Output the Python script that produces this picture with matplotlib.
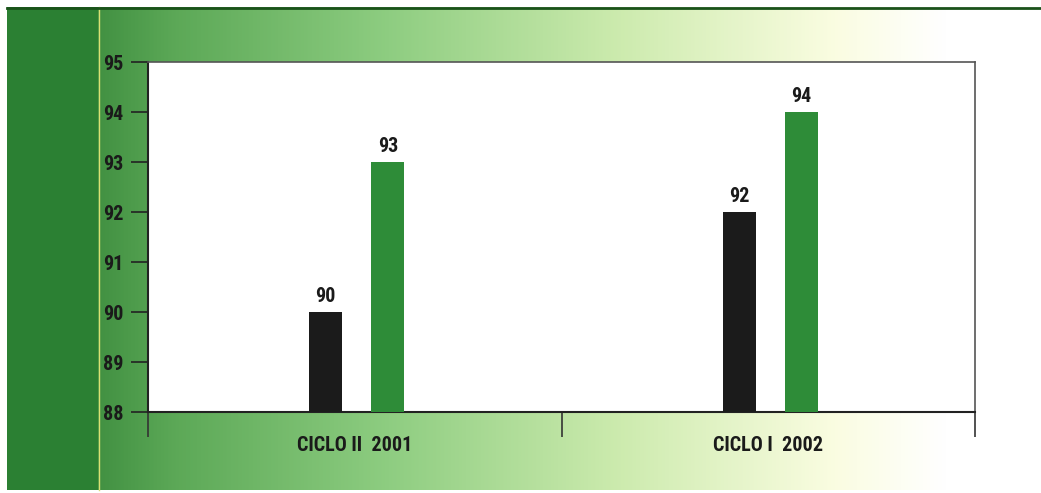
import numpy as np
import matplotlib
matplotlib.use("Agg")
import matplotlib.pyplot as plt
from matplotlib.colors import LinearSegmentedColormap
from matplotlib import font_manager as fm

# Data
categories = ["CICLO II  2001", "CICLO I  2002"]
series_black = [90, 92]
series_green = [93, 94]
yticks = [88, 89, 90, 91, 92, 93, 94, 95]

# Pick a condensed bold font if available
names = {f.name for f in fm.fontManager.ttflist}
fam = ["DejaVu Sans"]
stretch = "normal"
for cand in ["Liberation Sans Narrow", "Roboto Condensed", "Open Sans Condensed"]:
    if cand in names:
        fam = [cand, "DejaVu Sans"]
        break
else:
    if any(f.name == "DejaVu Sans" and str(f.stretch) in ("condensed", "semi-condensed") for f in fm.fontManager.ttflist):
        stretch = "condensed"
    elif "Roboto" in names:
        fam = ["Roboto", "DejaVu Sans"]

W, H = 1041, 493
fig = plt.figure(figsize=(W / 100, H / 100), dpi=100)
fig.patch.set_facecolor("white")

# Background panel
bg = fig.add_axes([0, 0, 1, 1], zorder=0)
bg.set_xlim(0, W)
bg.set_ylim(H, 0)
bg.axis("off")
xs = np.linspace(0, 1, 512)
stops = [(0.0, (0.26, 0.57, 0.26)), (0.08, (0.36, 0.66, 0.34)), (0.3, (0.55, 0.80, 0.50)),
         (0.55, (0.80, 0.92, 0.68)), (0.78, (0.98, 0.99, 0.88)), (0.9, (1, 1, 1)), (1.0, (1, 1, 1))]
cmap = LinearSegmentedColormap.from_list("g", stops)
grad = np.tile(xs, (2, 1))
bg.imshow(grad, cmap=cmap, extent=[98, W, 490, 7], aspect="auto", zorder=0)
bg.add_patch(plt.Rectangle((7, 7), 91, 483, color=(0.17, 0.50, 0.20), zorder=1, lw=0))
bg.plot([98.5, 98.5], [7, 490], color=(0.85, 0.88, 0.45), lw=1.0, zorder=2)
bg.plot([7, W], [7.5, 7.5], color=(0.10, 0.32, 0.10), lw=2.0, zorder=3)

# Main axes
ax = fig.add_axes([148 / W, 1 - 412 / H, (975 - 148) / W, (412 - 62) / H], zorder=2)
ax.set_facecolor("white")
x = np.array([0.5, 1.5])
w = 0.08
xb = x - 0.07
xg = x + 0.08
ax.bar(xb, [v - 88 for v in series_black], w, bottom=88, color="#1b1b1b", zorder=3)
ax.bar(xg, [v - 88 for v in series_green], w, bottom=88, color="#2e8c38", zorder=3)

tkw = dict(fontsize=14.5, fontweight="bold", family=fam, fontstretch=stretch, color="#1a1a1a")
for xi, v in zip(xb, series_black):
    ax.text(xi, v + 0.13, str(v), ha="center", va="bottom", **tkw)
for xi, v in zip(xg, series_green):
    ax.text(xi, v + 0.13, str(v), ha="center", va="bottom", **tkw)

ax.set_xlim(0, 2)
ax.set_ylim(88, 95)
ax.set_yticks(yticks)
ax.set_yticklabels([str(t) for t in yticks], **tkw)
ax.set_xticks([0, 1, 2])
ax.set_xticklabels([])
ax.set_xticks(x, minor=True)
ax.set_xticklabels(categories, minor=True, **tkw)
ax.tick_params(axis="x", which="major", direction="out", length=18, width=1.2, color="#333333")
ax.tick_params(axis="x", which="minor", length=0, pad=17)
ax.tick_params(axis="y", direction="out", length=12, width=1.2, color="#222222", pad=6)
for s in ["left", "bottom"]:
    ax.spines[s].set_color("#222222")
    ax.spines[s].set_linewidth(1.5)
for s in ["top", "right"]:
    ax.spines[s].set_color("#555555")
    ax.spines[s].set_linewidth(1.2)

fig.savefig("out.png", dpi=100, facecolor="white")
